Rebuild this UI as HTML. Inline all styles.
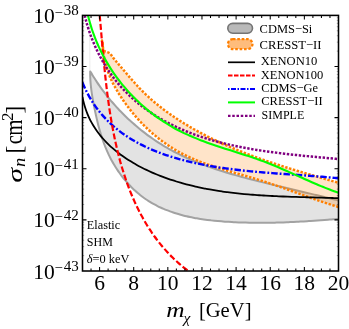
<!DOCTYPE html>
<html><head><meta charset="utf-8"><style>
html,body{margin:0;padding:0;background:#fff;}
svg{display:block;will-change:transform;}
text{fill:#000;}
</style></head><body>
<svg width="349" height="329" viewBox="0 0 349 329">
<rect width="349" height="329" fill="#fff"/>
<clipPath id="c"><rect x="82.5" y="15.4" width="256.0" height="255.6"/></clipPath>
<g clip-path="url(#c)" fill="none" stroke-linejoin="round">
<path d="M90.20,71.30 C90.57,71.91 91.65,73.74 92.39,74.95 C93.14,76.16 93.89,77.36 94.66,78.56 C95.42,79.75 96.20,80.93 96.98,82.11 C97.77,83.28 98.57,84.45 99.38,85.60 C100.19,86.76 101.00,87.91 101.83,89.04 C102.66,90.18 103.50,91.31 104.36,92.43 C105.21,93.55 106.07,94.66 106.94,95.76 C107.81,96.86 108.69,97.95 109.58,99.04 C110.47,100.12 111.37,101.19 112.29,102.25 C113.20,103.32 114.12,104.37 115.05,105.41 C115.98,106.45 116.92,107.49 117.87,108.51 C118.82,109.53 119.78,110.55 120.75,111.55 C121.72,112.55 122.69,113.55 123.68,114.53 C124.67,115.51 125.66,116.49 126.67,117.45 C127.68,118.41 128.69,119.37 129.71,120.31 C130.74,121.25 131.77,122.18 132.81,123.10 C133.85,124.02 134.90,124.93 135.96,125.83 C137.01,126.73 138.08,127.62 139.15,128.50 C140.23,129.38 141.31,130.25 142.40,131.10 C143.49,131.96 144.59,132.81 145.70,133.64 C146.80,134.48 147.92,135.30 149.04,136.11 C150.16,136.92 151.29,137.73 152.43,138.52 C153.57,139.31 154.72,140.08 155.87,140.85 C157.02,141.62 158.18,142.38 159.35,143.12 C160.52,143.87 161.69,144.60 162.87,145.32 C164.06,146.04 165.24,146.75 166.44,147.45 C167.64,148.15 168.84,148.83 170.05,149.51 C171.26,150.18 172.47,150.84 173.70,151.50 C174.92,152.15 176.15,152.78 177.38,153.41 C178.62,154.04 179.86,154.65 181.11,155.26 C182.36,155.86 183.61,156.46 184.87,157.04 C186.13,157.62 187.40,158.20 188.67,158.76 C189.94,159.32 191.21,159.88 192.49,160.42 C193.77,160.96 195.06,161.49 196.35,162.02 C197.64,162.54 198.94,163.06 200.24,163.56 C201.54,164.07 202.84,164.57 204.15,165.05 C205.46,165.54 206.78,166.02 208.09,166.50 C209.41,166.97 210.73,167.43 212.06,167.89 C213.38,168.35 214.71,168.80 216.04,169.24 C217.38,169.68 218.71,170.12 220.05,170.55 C221.39,170.97 222.73,171.40 224.08,171.81 C225.42,172.23 226.77,172.64 228.12,173.04 C229.47,173.45 230.82,173.84 232.18,174.24 C233.53,174.63 234.89,175.02 236.25,175.40 C237.61,175.78 238.97,176.16 240.33,176.53 C241.69,176.91 243.06,177.28 244.42,177.64 C245.79,178.01 247.16,178.37 248.53,178.73 C249.90,179.08 251.27,179.44 252.64,179.79 C254.01,180.14 255.38,180.49 256.75,180.83 C258.12,181.18 259.50,181.52 260.87,181.86 C262.24,182.20 263.61,182.54 264.99,182.87 C266.36,183.21 267.73,183.54 269.11,183.88 C270.48,184.21 271.85,184.54 273.23,184.87 C274.60,185.20 275.97,185.53 277.34,185.86 C278.71,186.19 280.09,186.52 281.46,186.84 C282.83,187.17 284.20,187.49 285.57,187.82 C286.94,188.14 288.30,188.47 289.67,188.79 C291.04,189.11 292.41,189.44 293.78,189.76 C295.14,190.08 296.51,190.41 297.87,190.73 C299.24,191.05 300.60,191.37 301.97,191.69 C303.33,192.02 304.69,192.34 306.05,192.66 C307.42,192.98 308.78,193.31 310.14,193.63 C311.49,193.95 312.85,194.27 314.21,194.60 C315.57,194.92 316.92,195.24 318.28,195.57 C319.63,195.89 320.99,196.22 322.34,196.54 C323.69,196.87 325.04,197.20 326.39,197.52 C327.74,197.85 329.09,198.18 330.44,198.51 C331.78,198.84 333.13,199.17 334.47,199.50 C335.82,199.83 337.83,200.33 338.50,200.50 L338.50,218.90 L338.50,218.90 C337.91,218.95 336.14,219.09 334.96,219.19 C333.79,219.28 332.61,219.38 331.44,219.47 C330.27,219.56 329.10,219.65 327.93,219.74 C326.77,219.83 325.61,219.92 324.44,220.01 C323.28,220.10 322.12,220.18 320.97,220.27 C319.81,220.35 318.65,220.44 317.50,220.52 C316.35,220.60 315.20,220.68 314.05,220.76 C312.90,220.84 311.75,220.91 310.61,220.99 C309.46,221.06 308.32,221.14 307.17,221.21 C306.03,221.28 304.89,221.35 303.75,221.41 C302.61,221.48 301.47,221.55 300.33,221.61 C299.19,221.67 298.06,221.73 296.92,221.79 C295.78,221.85 294.65,221.91 293.52,221.96 C292.38,222.02 291.25,222.07 290.11,222.12 C288.98,222.17 287.85,222.21 286.72,222.26 C285.58,222.30 284.45,222.35 283.32,222.39 C282.19,222.43 281.06,222.46 279.92,222.50 C278.79,222.53 277.66,222.56 276.53,222.59 C275.40,222.62 274.26,222.65 273.13,222.67 C272.00,222.69 270.87,222.71 269.73,222.73 C268.60,222.75 267.46,222.76 266.33,222.77 C265.20,222.78 264.06,222.79 262.92,222.79 C261.79,222.80 260.65,222.80 259.51,222.80 C258.37,222.80 257.23,222.79 256.09,222.78 C254.95,222.77 253.81,222.76 252.67,222.75 C251.52,222.73 250.38,222.71 249.23,222.69 C248.09,222.66 246.94,222.64 245.79,222.61 C244.64,222.58 243.49,222.54 242.33,222.51 C241.18,222.47 240.02,222.43 238.87,222.38 C237.71,222.34 236.55,222.29 235.39,222.23 C234.22,222.18 233.06,222.12 231.89,222.06 C230.73,222.00 229.56,221.93 228.39,221.86 C227.22,221.79 226.05,221.71 224.88,221.63 C223.71,221.55 222.53,221.46 221.36,221.37 C220.19,221.27 219.02,221.17 217.84,221.07 C216.67,220.96 215.50,220.85 214.32,220.73 C213.15,220.61 211.98,220.48 210.81,220.35 C209.64,220.21 208.47,220.07 207.30,219.92 C206.13,219.77 204.97,219.61 203.80,219.45 C202.64,219.28 201.48,219.10 200.32,218.92 C199.16,218.73 198.00,218.54 196.85,218.34 C195.69,218.14 194.54,217.92 193.39,217.70 C192.25,217.48 191.10,217.25 189.96,217.00 C188.82,216.76 187.69,216.51 186.56,216.24 C185.43,215.98 184.30,215.70 183.18,215.41 C182.06,215.13 180.94,214.83 179.83,214.52 C178.72,214.21 177.61,213.88 176.51,213.55 C175.42,213.21 174.32,212.86 173.24,212.50 C172.15,212.14 171.07,211.77 169.99,211.38 C168.92,210.99 167.86,210.59 166.80,210.17 C165.74,209.76 164.69,209.33 163.64,208.88 C162.60,208.44 161.56,207.98 160.54,207.51 C159.51,207.03 158.49,206.55 157.48,206.04 C156.47,205.54 155.47,205.02 154.48,204.48 C153.49,203.94 152.51,203.39 151.54,202.82 C150.57,202.25 149.60,201.67 148.65,201.07 C147.70,200.46 146.76,199.85 145.83,199.21 C144.90,198.57 143.98,197.92 143.07,197.25 C142.17,196.58 141.27,195.89 140.38,195.18 C139.50,194.48 138.62,193.76 137.76,193.03 C136.90,192.29 136.05,191.54 135.21,190.78 C134.37,190.01 133.54,189.23 132.72,188.44 C131.90,187.64 131.10,186.84 130.31,186.01 C129.51,185.19 128.73,184.36 127.97,183.51 C127.20,182.66 126.44,181.80 125.70,180.93 C124.95,180.05 124.22,179.17 123.50,178.27 C122.79,177.37 122.08,176.46 121.39,175.55 C120.69,174.63 120.01,173.69 119.35,172.75 C118.68,171.81 118.02,170.86 117.38,169.90 C116.74,168.94 116.12,167.97 115.50,166.98 C114.89,166.00 114.29,165.01 113.70,164.02 C113.11,163.02 112.54,162.01 111.98,161.00 C111.42,159.98 110.87,158.96 110.34,157.93 C109.81,156.90 109.29,155.86 108.79,154.82 C108.29,153.77 107.80,152.72 107.32,151.66 C106.85,150.61 106.39,149.54 105.94,148.48 C105.50,147.41 105.06,146.33 104.65,145.25 C104.23,144.18 103.82,143.09 103.43,142.00 C103.04,140.91 102.66,139.82 102.29,138.72 C101.92,137.63 101.56,136.52 101.22,135.42 C100.87,134.31 100.54,133.21 100.21,132.09 C99.88,130.98 99.57,129.87 99.26,128.75 C98.95,127.63 98.65,126.51 98.36,125.39 C98.07,124.27 97.79,123.14 97.52,122.02 C97.24,120.89 96.98,119.76 96.71,118.63 C96.45,117.51 96.20,116.38 95.95,115.25 C95.70,114.11 95.45,112.98 95.21,111.85 C94.98,110.72 94.74,109.59 94.51,108.46 C94.28,107.33 94.05,106.19 93.83,105.06 C93.61,103.93 93.40,102.80 93.19,101.67 C92.98,100.54 92.78,99.41 92.59,98.28 C92.40,97.15 92.21,96.02 92.04,94.89 C91.86,93.76 91.70,92.63 91.55,91.51 C91.39,90.38 91.25,89.25 91.12,88.12 C90.99,87.00 90.86,85.87 90.76,84.75 C90.65,83.62 90.56,82.50 90.48,81.38 C90.40,80.25 90.34,79.13 90.29,78.01 C90.24,76.89 90.21,75.77 90.19,74.65 C90.18,73.53 90.20,71.86 90.20,71.30 Z" fill="#c8c8c8" fill-opacity="0.5" stroke="none"/>
<path d="M338.50,218.90 C337.91,218.95 336.14,219.09 334.96,219.19 C333.79,219.28 332.61,219.38 331.44,219.47 C330.27,219.56 329.10,219.65 327.93,219.74 C326.77,219.83 325.61,219.92 324.44,220.01 C323.28,220.10 322.12,220.18 320.97,220.27 C319.81,220.35 318.65,220.44 317.50,220.52 C316.35,220.60 315.20,220.68 314.05,220.76 C312.90,220.84 311.75,220.91 310.61,220.99 C309.46,221.06 308.32,221.14 307.17,221.21 C306.03,221.28 304.89,221.35 303.75,221.41 C302.61,221.48 301.47,221.55 300.33,221.61 C299.19,221.67 298.06,221.73 296.92,221.79 C295.78,221.85 294.65,221.91 293.52,221.96 C292.38,222.02 291.25,222.07 290.11,222.12 C288.98,222.17 287.85,222.21 286.72,222.26 C285.58,222.30 284.45,222.35 283.32,222.39 C282.19,222.43 281.06,222.46 279.92,222.50 C278.79,222.53 277.66,222.56 276.53,222.59 C275.40,222.62 274.26,222.65 273.13,222.67 C272.00,222.69 270.87,222.71 269.73,222.73 C268.60,222.75 267.46,222.76 266.33,222.77 C265.20,222.78 264.06,222.79 262.92,222.79 C261.79,222.80 260.65,222.80 259.51,222.80 C258.37,222.80 257.23,222.79 256.09,222.78 C254.95,222.77 253.81,222.76 252.67,222.75 C251.52,222.73 250.38,222.71 249.23,222.69 C248.09,222.66 246.94,222.64 245.79,222.61 C244.64,222.58 243.49,222.54 242.33,222.51 C241.18,222.47 240.02,222.43 238.87,222.38 C237.71,222.34 236.55,222.29 235.39,222.23 C234.22,222.18 233.06,222.12 231.89,222.06 C230.73,222.00 229.56,221.93 228.39,221.86 C227.22,221.79 226.05,221.71 224.88,221.63 C223.71,221.55 222.53,221.46 221.36,221.37 C220.19,221.27 219.02,221.17 217.84,221.07 C216.67,220.96 215.50,220.85 214.32,220.73 C213.15,220.61 211.98,220.48 210.81,220.35 C209.64,220.21 208.47,220.07 207.30,219.92 C206.13,219.77 204.97,219.61 203.80,219.45 C202.64,219.28 201.48,219.10 200.32,218.92 C199.16,218.73 198.00,218.54 196.85,218.34 C195.69,218.14 194.54,217.92 193.39,217.70 C192.25,217.48 191.10,217.25 189.96,217.00 C188.82,216.76 187.69,216.51 186.56,216.24 C185.43,215.98 184.30,215.70 183.18,215.41 C182.06,215.13 180.94,214.83 179.83,214.52 C178.72,214.21 177.61,213.88 176.51,213.55 C175.42,213.21 174.32,212.86 173.24,212.50 C172.15,212.14 171.07,211.77 169.99,211.38 C168.92,210.99 167.86,210.59 166.80,210.17 C165.74,209.76 164.69,209.33 163.64,208.88 C162.60,208.44 161.56,207.98 160.54,207.51 C159.51,207.03 158.49,206.55 157.48,206.04 C156.47,205.54 155.47,205.02 154.48,204.48 C153.49,203.94 152.51,203.39 151.54,202.82 C150.57,202.25 149.60,201.67 148.65,201.07 C147.70,200.46 146.76,199.85 145.83,199.21 C144.90,198.57 143.98,197.92 143.07,197.25 C142.17,196.58 141.27,195.89 140.38,195.18 C139.50,194.48 138.62,193.76 137.76,193.03 C136.90,192.29 136.05,191.54 135.21,190.78 C134.37,190.01 133.54,189.23 132.72,188.44 C131.90,187.64 131.10,186.84 130.31,186.01 C129.51,185.19 128.73,184.36 127.97,183.51 C127.20,182.66 126.44,181.80 125.70,180.93 C124.95,180.05 124.22,179.17 123.50,178.27 C122.79,177.37 122.08,176.46 121.39,175.55 C120.69,174.63 120.01,173.69 119.35,172.75 C118.68,171.81 118.02,170.86 117.38,169.90 C116.74,168.94 116.12,167.97 115.50,166.98 C114.89,166.00 114.29,165.01 113.70,164.02 C113.11,163.02 112.54,162.01 111.98,161.00 C111.42,159.98 110.87,158.96 110.34,157.93 C109.81,156.90 109.29,155.86 108.79,154.82 C108.29,153.77 107.80,152.72 107.32,151.66 C106.85,150.61 106.39,149.54 105.94,148.48 C105.50,147.41 105.06,146.33 104.65,145.25 C104.23,144.18 103.82,143.09 103.43,142.00 C103.04,140.91 102.66,139.82 102.29,138.72 C101.92,137.63 101.56,136.52 101.22,135.42 C100.87,134.31 100.54,133.21 100.21,132.09 C99.88,130.98 99.57,129.87 99.26,128.75 C98.95,127.63 98.65,126.51 98.36,125.39 C98.07,124.27 97.79,123.14 97.52,122.02 C97.24,120.89 96.98,119.76 96.71,118.63 C96.45,117.51 96.20,116.38 95.95,115.25 C95.70,114.11 95.45,112.98 95.21,111.85 C94.98,110.72 94.74,109.59 94.51,108.46 C94.28,107.33 94.05,106.19 93.83,105.06 C93.61,103.93 93.40,102.80 93.19,101.67 C92.98,100.54 92.78,99.41 92.59,98.28 C92.40,97.15 92.21,96.02 92.04,94.89 C91.86,93.76 91.70,92.63 91.55,91.51 C91.39,90.38 91.25,89.25 91.12,88.12 C90.99,87.00 90.86,85.87 90.76,84.75 C90.65,83.62 90.56,82.50 90.48,81.38 C90.40,80.25 90.34,79.13 90.29,78.01 C90.24,76.89 90.21,75.77 90.19,74.65 C90.18,73.53 90.20,71.86 90.20,71.30 L90.20,71.30 C90.57,71.91 91.65,73.74 92.39,74.95 C93.14,76.16 93.89,77.36 94.66,78.56 C95.42,79.75 96.20,80.93 96.98,82.11 C97.77,83.28 98.57,84.45 99.38,85.60 C100.19,86.76 101.00,87.91 101.83,89.04 C102.66,90.18 103.50,91.31 104.36,92.43 C105.21,93.55 106.07,94.66 106.94,95.76 C107.81,96.86 108.69,97.95 109.58,99.04 C110.47,100.12 111.37,101.19 112.29,102.25 C113.20,103.32 114.12,104.37 115.05,105.41 C115.98,106.45 116.92,107.49 117.87,108.51 C118.82,109.53 119.78,110.55 120.75,111.55 C121.72,112.55 122.69,113.55 123.68,114.53 C124.67,115.51 125.66,116.49 126.67,117.45 C127.68,118.41 128.69,119.37 129.71,120.31 C130.74,121.25 131.77,122.18 132.81,123.10 C133.85,124.02 134.90,124.93 135.96,125.83 C137.01,126.73 138.08,127.62 139.15,128.50 C140.23,129.38 141.31,130.25 142.40,131.10 C143.49,131.96 144.59,132.81 145.70,133.64 C146.80,134.48 147.92,135.30 149.04,136.11 C150.16,136.92 151.29,137.73 152.43,138.52 C153.57,139.31 154.72,140.08 155.87,140.85 C157.02,141.62 158.18,142.38 159.35,143.12 C160.52,143.87 161.69,144.60 162.87,145.32 C164.06,146.04 165.24,146.75 166.44,147.45 C167.64,148.15 168.84,148.83 170.05,149.51 C171.26,150.18 172.47,150.84 173.70,151.50 C174.92,152.15 176.15,152.78 177.38,153.41 C178.62,154.04 179.86,154.65 181.11,155.26 C182.36,155.86 183.61,156.46 184.87,157.04 C186.13,157.62 187.40,158.20 188.67,158.76 C189.94,159.32 191.21,159.88 192.49,160.42 C193.77,160.96 195.06,161.49 196.35,162.02 C197.64,162.54 198.94,163.06 200.24,163.56 C201.54,164.07 202.84,164.57 204.15,165.05 C205.46,165.54 206.78,166.02 208.09,166.50 C209.41,166.97 210.73,167.43 212.06,167.89 C213.38,168.35 214.71,168.80 216.04,169.24 C217.38,169.68 218.71,170.12 220.05,170.55 C221.39,170.97 222.73,171.40 224.08,171.81 C225.42,172.23 226.77,172.64 228.12,173.04 C229.47,173.45 230.82,173.84 232.18,174.24 C233.53,174.63 234.89,175.02 236.25,175.40 C237.61,175.78 238.97,176.16 240.33,176.53 C241.69,176.91 243.06,177.28 244.42,177.64 C245.79,178.01 247.16,178.37 248.53,178.73 C249.90,179.08 251.27,179.44 252.64,179.79 C254.01,180.14 255.38,180.49 256.75,180.83 C258.12,181.18 259.50,181.52 260.87,181.86 C262.24,182.20 263.61,182.54 264.99,182.87 C266.36,183.21 267.73,183.54 269.11,183.88 C270.48,184.21 271.85,184.54 273.23,184.87 C274.60,185.20 275.97,185.53 277.34,185.86 C278.71,186.19 280.09,186.52 281.46,186.84 C282.83,187.17 284.20,187.49 285.57,187.82 C286.94,188.14 288.30,188.47 289.67,188.79 C291.04,189.11 292.41,189.44 293.78,189.76 C295.14,190.08 296.51,190.41 297.87,190.73 C299.24,191.05 300.60,191.37 301.97,191.69 C303.33,192.02 304.69,192.34 306.05,192.66 C307.42,192.98 308.78,193.31 310.14,193.63 C311.49,193.95 312.85,194.27 314.21,194.60 C315.57,194.92 316.92,195.24 318.28,195.57 C319.63,195.89 320.99,196.22 322.34,196.54 C323.69,196.87 325.04,197.20 326.39,197.52 C327.74,197.85 329.09,198.18 330.44,198.51 C331.78,198.84 333.13,199.17 334.47,199.50 C335.82,199.83 337.83,200.33 338.50,200.50" stroke="#a2a2a2" stroke-width="2"/>
<path d="M89.6,15 L89.9,71" stroke="#e9e9e9" stroke-width="0.9"/>
<path d="M102.00,40.50 C102.10,40.87 102.47,41.93 102.60,42.71 C102.72,43.50 102.70,44.37 102.76,45.20 C102.82,46.03 102.81,46.90 102.98,47.70 C103.15,48.49 103.35,49.30 103.76,49.95 C104.17,50.61 104.78,51.24 105.45,51.64 C106.11,52.04 107.03,52.05 107.76,52.34 C108.49,52.63 109.22,52.88 109.82,53.37 C110.43,53.85 110.89,54.60 111.39,55.25 C111.89,55.90 112.34,56.61 112.83,57.26 C113.31,57.90 113.80,58.51 114.30,59.13 C114.79,59.75 115.30,60.36 115.81,60.97 C116.31,61.58 116.83,62.20 117.35,62.81 C117.86,63.42 118.38,64.03 118.91,64.64 C119.43,65.25 119.95,65.86 120.47,66.47 C121.00,67.08 121.52,67.69 122.04,68.30 C122.57,68.91 123.09,69.52 123.61,70.13 C124.13,70.74 124.64,71.35 125.16,71.95 C125.68,72.56 126.20,73.17 126.72,73.78 C127.24,74.38 127.76,74.99 128.28,75.59 C128.80,76.20 129.31,76.80 129.84,77.40 C130.36,78.01 130.88,78.61 131.40,79.21 C131.92,79.81 132.45,80.40 132.97,81.00 C133.50,81.59 134.03,82.19 134.56,82.78 C135.09,83.37 135.62,83.96 136.15,84.55 C136.69,85.14 137.22,85.72 137.76,86.30 C138.30,86.88 138.84,87.46 139.39,88.04 C139.94,88.62 140.49,89.19 141.04,89.76 C141.59,90.33 142.15,90.90 142.71,91.46 C143.27,92.02 143.84,92.58 144.41,93.14 C144.98,93.70 145.55,94.25 146.13,94.80 C146.71,95.35 147.29,95.89 147.88,96.43 C148.47,96.98 149.06,97.51 149.66,98.05 C150.25,98.58 150.85,99.12 151.45,99.64 C152.05,100.17 152.66,100.70 153.27,101.22 C153.88,101.74 154.50,102.25 155.11,102.77 C155.73,103.28 156.35,103.79 156.97,104.30 C157.60,104.81 158.22,105.31 158.85,105.81 C159.48,106.31 160.12,106.81 160.75,107.30 C161.39,107.80 162.03,108.29 162.67,108.77 C163.31,109.26 163.95,109.75 164.60,110.23 C165.24,110.71 165.89,111.18 166.54,111.66 C167.20,112.13 167.85,112.60 168.50,113.07 C169.16,113.54 169.82,114.00 170.48,114.46 C171.14,114.92 171.80,115.38 172.46,115.84 C173.13,116.29 173.79,116.74 174.46,117.19 C175.12,117.64 175.79,118.09 176.46,118.53 C177.13,118.97 177.80,119.41 178.48,119.85 C179.15,120.29 179.82,120.72 180.50,121.15 C181.18,121.58 181.85,122.01 182.53,122.43 C183.21,122.86 183.89,123.28 184.57,123.70 C185.26,124.12 185.94,124.53 186.62,124.94 C187.31,125.36 188.00,125.77 188.68,126.17 C189.37,126.58 190.06,126.99 190.75,127.39 C191.44,127.79 192.13,128.19 192.83,128.59 C193.52,128.98 194.21,129.38 194.91,129.77 C195.61,130.16 196.30,130.55 197.00,130.93 C197.70,131.32 198.40,131.70 199.10,132.08 C199.80,132.46 200.50,132.84 201.21,133.21 C201.91,133.59 202.62,133.96 203.32,134.33 C204.03,134.70 204.74,135.07 205.44,135.43 C206.15,135.80 206.86,136.16 207.57,136.52 C208.28,136.88 209.00,137.24 209.71,137.59 C210.42,137.95 211.14,138.30 211.85,138.65 C212.57,139.00 213.28,139.35 214.00,139.70 C214.72,140.04 215.44,140.39 216.16,140.73 C216.88,141.07 217.60,141.41 218.32,141.75 C219.04,142.08 219.77,142.42 220.49,142.75 C221.22,143.08 221.94,143.41 222.67,143.74 C223.39,144.07 224.12,144.40 224.85,144.72 C225.58,145.04 226.31,145.37 227.04,145.69 C227.77,146.01 228.50,146.32 229.23,146.64 C229.96,146.96 230.70,147.27 231.43,147.58 C232.16,147.89 232.90,148.20 233.63,148.51 C234.37,148.82 235.11,149.12 235.84,149.43 C236.58,149.73 237.32,150.03 238.06,150.33 C238.80,150.63 239.54,150.93 240.28,151.23 C241.02,151.53 241.76,151.82 242.51,152.11 C243.25,152.41 243.99,152.70 244.74,152.99 C245.48,153.28 246.23,153.57 246.97,153.85 C247.72,154.14 248.46,154.42 249.21,154.70 C249.96,154.99 250.71,155.27 251.45,155.55 C252.20,155.83 252.95,156.11 253.70,156.38 C254.45,156.66 255.20,156.93 255.95,157.21 C256.70,157.48 257.46,157.75 258.21,158.02 C258.96,158.29 259.72,158.56 260.47,158.83 C261.22,159.10 261.98,159.36 262.73,159.63 C263.49,159.89 264.24,160.16 265.00,160.42 C265.75,160.68 266.51,160.94 267.27,161.20 C268.03,161.46 268.78,161.72 269.54,161.97 C270.30,162.23 271.06,162.49 271.82,162.74 C272.58,162.99 273.34,163.25 274.10,163.50 C274.86,163.75 275.62,164.00 276.38,164.25 C277.14,164.50 277.90,164.75 278.66,165.00 C279.43,165.24 280.19,165.49 280.95,165.74 C281.71,165.98 282.48,166.22 283.24,166.47 C284.00,166.71 284.77,166.95 285.53,167.19 C286.30,167.44 287.06,167.68 287.82,167.91 C288.59,168.15 289.35,168.39 290.12,168.63 C290.89,168.87 291.65,169.10 292.42,169.34 C293.18,169.57 293.95,169.81 294.72,170.04 C295.48,170.28 296.25,170.51 297.02,170.74 C297.78,170.98 298.55,171.21 299.32,171.44 C300.08,171.67 300.85,171.90 301.62,172.13 C302.39,172.36 303.16,172.59 303.92,172.82 C304.69,173.04 305.46,173.27 306.23,173.50 C307.00,173.73 307.76,173.95 308.53,174.18 C309.30,174.40 310.07,174.63 310.84,174.85 C311.61,175.08 312.38,175.30 313.15,175.53 C313.91,175.75 314.68,175.97 315.45,176.20 C316.22,176.42 316.99,176.64 317.76,176.86 C318.53,177.09 319.30,177.31 320.06,177.53 C320.83,177.75 321.60,177.97 322.37,178.19 C323.14,178.41 323.91,178.63 324.68,178.85 C325.45,179.07 326.21,179.29 326.98,179.51 C327.75,179.73 328.52,179.95 329.29,180.17 C330.06,180.39 330.82,180.61 331.59,180.83 C332.36,181.05 333.13,181.27 333.90,181.49 C334.66,181.71 335.43,181.92 336.20,182.14 C336.97,182.36 338.12,182.69 338.50,182.80 L338.50,207.00 L338.50,207.00 C338.08,206.87 336.83,206.50 335.99,206.24 C335.16,205.98 334.32,205.73 333.49,205.47 C332.66,205.21 331.83,204.94 331.00,204.68 C330.17,204.42 329.34,204.15 328.51,203.88 C327.68,203.61 326.85,203.34 326.03,203.07 C325.20,202.80 324.38,202.52 323.55,202.25 C322.73,201.97 321.90,201.70 321.08,201.42 C320.26,201.14 319.44,200.86 318.62,200.58 C317.80,200.30 316.98,200.02 316.16,199.73 C315.34,199.45 314.52,199.16 313.70,198.88 C312.88,198.59 312.06,198.31 311.25,198.02 C310.43,197.73 309.61,197.44 308.80,197.15 C307.98,196.86 307.17,196.57 306.35,196.28 C305.53,195.99 304.72,195.70 303.91,195.41 C303.09,195.12 302.28,194.83 301.46,194.54 C300.65,194.24 299.83,193.95 299.02,193.66 C298.21,193.37 297.39,193.07 296.58,192.78 C295.77,192.49 294.95,192.20 294.14,191.91 C293.32,191.61 292.51,191.32 291.70,191.03 C290.88,190.74 290.07,190.45 289.26,190.15 C288.44,189.86 287.63,189.57 286.81,189.28 C286.00,188.99 285.18,188.70 284.37,188.42 C283.55,188.13 282.74,187.84 281.92,187.55 C281.11,187.27 280.29,186.98 279.47,186.70 C278.66,186.41 277.84,186.13 277.02,185.85 C276.21,185.56 275.39,185.28 274.57,185.00 C273.75,184.72 272.93,184.44 272.11,184.17 C271.29,183.89 270.47,183.61 269.65,183.34 C268.83,183.07 268.00,182.79 267.18,182.52 C266.36,182.25 265.53,181.98 264.71,181.72 C263.88,181.45 263.06,181.19 262.23,180.92 C261.40,180.66 260.57,180.40 259.75,180.14 C258.92,179.89 258.09,179.63 257.25,179.38 C256.42,179.12 255.59,178.87 254.76,178.62 C253.92,178.37 253.09,178.12 252.26,177.88 C251.42,177.63 250.59,177.39 249.75,177.14 C248.91,176.90 248.08,176.66 247.24,176.42 C246.40,176.17 245.56,175.93 244.72,175.69 C243.89,175.45 243.05,175.22 242.21,174.98 C241.37,174.74 240.53,174.50 239.69,174.26 C238.85,174.02 238.01,173.78 237.17,173.55 C236.34,173.31 235.50,173.07 234.66,172.83 C233.82,172.59 232.98,172.35 232.14,172.11 C231.30,171.87 230.46,171.63 229.63,171.38 C228.79,171.14 227.95,170.90 227.12,170.65 C226.28,170.41 225.44,170.16 224.61,169.91 C223.77,169.66 222.94,169.41 222.11,169.16 C221.27,168.91 220.44,168.66 219.61,168.40 C218.78,168.14 217.95,167.88 217.12,167.62 C216.29,167.36 215.46,167.10 214.63,166.83 C213.81,166.56 212.98,166.29 212.16,166.02 C211.33,165.74 210.51,165.47 209.69,165.19 C208.87,164.91 208.05,164.62 207.23,164.34 C206.41,164.05 205.60,163.76 204.78,163.46 C203.97,163.17 203.15,162.87 202.34,162.56 C201.53,162.26 200.72,161.95 199.92,161.64 C199.11,161.33 198.31,161.01 197.51,160.68 C196.70,160.36 195.90,160.03 195.11,159.70 C194.31,159.37 193.52,159.03 192.72,158.68 C191.93,158.34 191.14,157.99 190.35,157.64 C189.57,157.28 188.78,156.92 188.00,156.55 C187.22,156.18 186.44,155.81 185.66,155.43 C184.89,155.05 184.12,154.66 183.35,154.27 C182.58,153.87 181.81,153.47 181.05,153.06 C180.28,152.66 179.52,152.24 178.77,151.82 C178.01,151.40 177.26,150.97 176.51,150.54 C175.76,150.10 175.01,149.66 174.27,149.22 C173.52,148.77 172.78,148.31 172.05,147.86 C171.31,147.40 170.58,146.93 169.85,146.46 C169.12,145.98 168.40,145.51 167.68,145.02 C166.96,144.54 166.24,144.04 165.53,143.55 C164.82,143.05 164.11,142.55 163.41,142.04 C162.70,141.53 162.00,141.01 161.31,140.49 C160.61,139.97 159.92,139.45 159.24,138.92 C158.55,138.38 157.87,137.85 157.19,137.30 C156.51,136.76 155.84,136.21 155.17,135.65 C154.51,135.10 153.84,134.54 153.18,133.97 C152.53,133.41 151.87,132.84 151.22,132.26 C150.58,131.69 149.93,131.11 149.29,130.52 C148.65,129.93 148.02,129.34 147.39,128.74 C146.76,128.15 146.14,127.55 145.52,126.94 C144.90,126.33 144.28,125.72 143.67,125.10 C143.06,124.49 142.46,123.87 141.86,123.24 C141.26,122.61 140.66,121.98 140.07,121.35 C139.48,120.71 138.89,120.07 138.31,119.43 C137.73,118.78 137.15,118.13 136.58,117.48 C136.01,116.83 135.44,116.17 134.87,115.51 C134.31,114.84 133.75,114.18 133.20,113.51 C132.64,112.84 132.09,112.16 131.55,111.48 C131.00,110.80 130.46,110.12 129.93,109.43 C129.39,108.75 128.86,108.06 128.33,107.36 C127.81,106.67 127.28,105.97 126.77,105.26 C126.25,104.56 125.73,103.86 125.23,103.15 C124.72,102.44 124.21,101.72 123.71,101.00 C123.21,100.29 122.72,99.57 122.23,98.84 C121.74,98.12 121.25,97.39 120.77,96.66 C120.29,95.93 119.82,95.19 119.35,94.45 C118.88,93.71 118.42,92.97 117.97,92.22 C117.51,91.48 117.06,90.73 116.62,89.97 C116.18,89.22 115.75,88.46 115.32,87.70 C114.90,86.94 114.48,86.17 114.07,85.40 C113.66,84.63 113.26,83.86 112.87,83.08 C112.48,82.31 112.10,81.53 111.73,80.74 C111.35,79.96 110.99,79.17 110.64,78.38 C110.28,77.58 109.94,76.79 109.61,75.99 C109.28,75.19 108.96,74.38 108.65,73.57 C108.34,72.76 108.04,71.95 107.75,71.13 C107.46,70.32 107.19,69.50 106.92,68.67 C106.66,67.85 106.41,67.02 106.17,66.18 C105.93,65.35 105.71,64.51 105.49,63.67 C105.28,62.83 105.08,61.99 104.89,61.14 C104.70,60.30 104.52,59.44 104.34,58.59 C104.17,57.74 104.01,56.89 103.86,56.03 C103.71,55.17 103.57,54.31 103.44,53.45 C103.30,52.59 103.18,51.73 103.06,50.87 C102.95,50.01 102.84,49.14 102.74,48.28 C102.64,47.41 102.54,46.55 102.46,45.69 C102.37,44.82 102.29,43.96 102.21,43.09 C102.14,42.23 102.04,40.93 102.01,40.50 Z" fill="#ff7f00" fill-opacity="0.21" stroke="none"/>
<path d="M338.50,207.00 C338.08,206.87 336.83,206.50 335.99,206.24 C335.16,205.98 334.32,205.73 333.49,205.47 C332.66,205.21 331.83,204.94 331.00,204.68 C330.17,204.42 329.34,204.15 328.51,203.88 C327.68,203.61 326.85,203.34 326.03,203.07 C325.20,202.80 324.38,202.52 323.55,202.25 C322.73,201.97 321.90,201.70 321.08,201.42 C320.26,201.14 319.44,200.86 318.62,200.58 C317.80,200.30 316.98,200.02 316.16,199.73 C315.34,199.45 314.52,199.16 313.70,198.88 C312.88,198.59 312.06,198.31 311.25,198.02 C310.43,197.73 309.61,197.44 308.80,197.15 C307.98,196.86 307.17,196.57 306.35,196.28 C305.53,195.99 304.72,195.70 303.91,195.41 C303.09,195.12 302.28,194.83 301.46,194.54 C300.65,194.24 299.83,193.95 299.02,193.66 C298.21,193.37 297.39,193.07 296.58,192.78 C295.77,192.49 294.95,192.20 294.14,191.91 C293.32,191.61 292.51,191.32 291.70,191.03 C290.88,190.74 290.07,190.45 289.26,190.15 C288.44,189.86 287.63,189.57 286.81,189.28 C286.00,188.99 285.18,188.70 284.37,188.42 C283.55,188.13 282.74,187.84 281.92,187.55 C281.11,187.27 280.29,186.98 279.47,186.70 C278.66,186.41 277.84,186.13 277.02,185.85 C276.21,185.56 275.39,185.28 274.57,185.00 C273.75,184.72 272.93,184.44 272.11,184.17 C271.29,183.89 270.47,183.61 269.65,183.34 C268.83,183.07 268.00,182.79 267.18,182.52 C266.36,182.25 265.53,181.98 264.71,181.72 C263.88,181.45 263.06,181.19 262.23,180.92 C261.40,180.66 260.57,180.40 259.75,180.14 C258.92,179.89 258.09,179.63 257.25,179.38 C256.42,179.12 255.59,178.87 254.76,178.62 C253.92,178.37 253.09,178.12 252.26,177.88 C251.42,177.63 250.59,177.39 249.75,177.14 C248.91,176.90 248.08,176.66 247.24,176.42 C246.40,176.17 245.56,175.93 244.72,175.69 C243.89,175.45 243.05,175.22 242.21,174.98 C241.37,174.74 240.53,174.50 239.69,174.26 C238.85,174.02 238.01,173.78 237.17,173.55 C236.34,173.31 235.50,173.07 234.66,172.83 C233.82,172.59 232.98,172.35 232.14,172.11 C231.30,171.87 230.46,171.63 229.63,171.38 C228.79,171.14 227.95,170.90 227.12,170.65 C226.28,170.41 225.44,170.16 224.61,169.91 C223.77,169.66 222.94,169.41 222.11,169.16 C221.27,168.91 220.44,168.66 219.61,168.40 C218.78,168.14 217.95,167.88 217.12,167.62 C216.29,167.36 215.46,167.10 214.63,166.83 C213.81,166.56 212.98,166.29 212.16,166.02 C211.33,165.74 210.51,165.47 209.69,165.19 C208.87,164.91 208.05,164.62 207.23,164.34 C206.41,164.05 205.60,163.76 204.78,163.46 C203.97,163.17 203.15,162.87 202.34,162.56 C201.53,162.26 200.72,161.95 199.92,161.64 C199.11,161.33 198.31,161.01 197.51,160.68 C196.70,160.36 195.90,160.03 195.11,159.70 C194.31,159.37 193.52,159.03 192.72,158.68 C191.93,158.34 191.14,157.99 190.35,157.64 C189.57,157.28 188.78,156.92 188.00,156.55 C187.22,156.18 186.44,155.81 185.66,155.43 C184.89,155.05 184.12,154.66 183.35,154.27 C182.58,153.87 181.81,153.47 181.05,153.06 C180.28,152.66 179.52,152.24 178.77,151.82 C178.01,151.40 177.26,150.97 176.51,150.54 C175.76,150.10 175.01,149.66 174.27,149.22 C173.52,148.77 172.78,148.31 172.05,147.86 C171.31,147.40 170.58,146.93 169.85,146.46 C169.12,145.98 168.40,145.51 167.68,145.02 C166.96,144.54 166.24,144.04 165.53,143.55 C164.82,143.05 164.11,142.55 163.41,142.04 C162.70,141.53 162.00,141.01 161.31,140.49 C160.61,139.97 159.92,139.45 159.24,138.92 C158.55,138.38 157.87,137.85 157.19,137.30 C156.51,136.76 155.84,136.21 155.17,135.65 C154.51,135.10 153.84,134.54 153.18,133.97 C152.53,133.41 151.87,132.84 151.22,132.26 C150.58,131.69 149.93,131.11 149.29,130.52 C148.65,129.93 148.02,129.34 147.39,128.74 C146.76,128.15 146.14,127.55 145.52,126.94 C144.90,126.33 144.28,125.72 143.67,125.10 C143.06,124.49 142.46,123.87 141.86,123.24 C141.26,122.61 140.66,121.98 140.07,121.35 C139.48,120.71 138.89,120.07 138.31,119.43 C137.73,118.78 137.15,118.13 136.58,117.48 C136.01,116.83 135.44,116.17 134.87,115.51 C134.31,114.84 133.75,114.18 133.20,113.51 C132.64,112.84 132.09,112.16 131.55,111.48 C131.00,110.80 130.46,110.12 129.93,109.43 C129.39,108.75 128.86,108.06 128.33,107.36 C127.81,106.67 127.28,105.97 126.77,105.26 C126.25,104.56 125.73,103.86 125.23,103.15 C124.72,102.44 124.21,101.72 123.71,101.00 C123.21,100.29 122.72,99.57 122.23,98.84 C121.74,98.12 121.25,97.39 120.77,96.66 C120.29,95.93 119.82,95.19 119.35,94.45 C118.88,93.71 118.42,92.97 117.97,92.22 C117.51,91.48 117.06,90.73 116.62,89.97 C116.18,89.22 115.75,88.46 115.32,87.70 C114.90,86.94 114.48,86.17 114.07,85.40 C113.66,84.63 113.26,83.86 112.87,83.08 C112.48,82.31 112.10,81.53 111.73,80.74 C111.35,79.96 110.99,79.17 110.64,78.38 C110.28,77.58 109.94,76.79 109.61,75.99 C109.28,75.19 108.96,74.38 108.65,73.57 C108.34,72.76 108.04,71.95 107.75,71.13 C107.46,70.32 107.19,69.50 106.92,68.67 C106.66,67.85 106.41,67.02 106.17,66.18 C105.93,65.35 105.71,64.51 105.49,63.67 C105.28,62.83 105.08,61.99 104.89,61.14 C104.70,60.30 104.52,59.44 104.34,58.59 C104.17,57.74 104.01,56.89 103.86,56.03 C103.71,55.17 103.57,54.31 103.44,53.45 C103.30,52.59 103.18,51.73 103.06,50.87 C102.95,50.01 102.84,49.14 102.74,48.28 C102.64,47.41 102.54,46.55 102.46,45.69 C102.37,44.82 102.29,43.96 102.21,43.09 C102.14,42.23 102.04,40.93 102.01,40.50 L102.00,40.50 C102.10,40.87 102.47,41.93 102.60,42.71 C102.72,43.50 102.70,44.37 102.76,45.20 C102.82,46.03 102.81,46.90 102.98,47.70 C103.15,48.49 103.35,49.30 103.76,49.95 C104.17,50.61 104.78,51.24 105.45,51.64 C106.11,52.04 107.03,52.05 107.76,52.34 C108.49,52.63 109.22,52.88 109.82,53.37 C110.43,53.85 110.89,54.60 111.39,55.25 C111.89,55.90 112.34,56.61 112.83,57.26 C113.31,57.90 113.80,58.51 114.30,59.13 C114.79,59.75 115.30,60.36 115.81,60.97 C116.31,61.58 116.83,62.20 117.35,62.81 C117.86,63.42 118.38,64.03 118.91,64.64 C119.43,65.25 119.95,65.86 120.47,66.47 C121.00,67.08 121.52,67.69 122.04,68.30 C122.57,68.91 123.09,69.52 123.61,70.13 C124.13,70.74 124.64,71.35 125.16,71.95 C125.68,72.56 126.20,73.17 126.72,73.78 C127.24,74.38 127.76,74.99 128.28,75.59 C128.80,76.20 129.31,76.80 129.84,77.40 C130.36,78.01 130.88,78.61 131.40,79.21 C131.92,79.81 132.45,80.40 132.97,81.00 C133.50,81.59 134.03,82.19 134.56,82.78 C135.09,83.37 135.62,83.96 136.15,84.55 C136.69,85.14 137.22,85.72 137.76,86.30 C138.30,86.88 138.84,87.46 139.39,88.04 C139.94,88.62 140.49,89.19 141.04,89.76 C141.59,90.33 142.15,90.90 142.71,91.46 C143.27,92.02 143.84,92.58 144.41,93.14 C144.98,93.70 145.55,94.25 146.13,94.80 C146.71,95.35 147.29,95.89 147.88,96.43 C148.47,96.98 149.06,97.51 149.66,98.05 C150.25,98.58 150.85,99.12 151.45,99.64 C152.05,100.17 152.66,100.70 153.27,101.22 C153.88,101.74 154.50,102.25 155.11,102.77 C155.73,103.28 156.35,103.79 156.97,104.30 C157.60,104.81 158.22,105.31 158.85,105.81 C159.48,106.31 160.12,106.81 160.75,107.30 C161.39,107.80 162.03,108.29 162.67,108.77 C163.31,109.26 163.95,109.75 164.60,110.23 C165.24,110.71 165.89,111.18 166.54,111.66 C167.20,112.13 167.85,112.60 168.50,113.07 C169.16,113.54 169.82,114.00 170.48,114.46 C171.14,114.92 171.80,115.38 172.46,115.84 C173.13,116.29 173.79,116.74 174.46,117.19 C175.12,117.64 175.79,118.09 176.46,118.53 C177.13,118.97 177.80,119.41 178.48,119.85 C179.15,120.29 179.82,120.72 180.50,121.15 C181.18,121.58 181.85,122.01 182.53,122.43 C183.21,122.86 183.89,123.28 184.57,123.70 C185.26,124.12 185.94,124.53 186.62,124.94 C187.31,125.36 188.00,125.77 188.68,126.17 C189.37,126.58 190.06,126.99 190.75,127.39 C191.44,127.79 192.13,128.19 192.83,128.59 C193.52,128.98 194.21,129.38 194.91,129.77 C195.61,130.16 196.30,130.55 197.00,130.93 C197.70,131.32 198.40,131.70 199.10,132.08 C199.80,132.46 200.50,132.84 201.21,133.21 C201.91,133.59 202.62,133.96 203.32,134.33 C204.03,134.70 204.74,135.07 205.44,135.43 C206.15,135.80 206.86,136.16 207.57,136.52 C208.28,136.88 209.00,137.24 209.71,137.59 C210.42,137.95 211.14,138.30 211.85,138.65 C212.57,139.00 213.28,139.35 214.00,139.70 C214.72,140.04 215.44,140.39 216.16,140.73 C216.88,141.07 217.60,141.41 218.32,141.75 C219.04,142.08 219.77,142.42 220.49,142.75 C221.22,143.08 221.94,143.41 222.67,143.74 C223.39,144.07 224.12,144.40 224.85,144.72 C225.58,145.04 226.31,145.37 227.04,145.69 C227.77,146.01 228.50,146.32 229.23,146.64 C229.96,146.96 230.70,147.27 231.43,147.58 C232.16,147.89 232.90,148.20 233.63,148.51 C234.37,148.82 235.11,149.12 235.84,149.43 C236.58,149.73 237.32,150.03 238.06,150.33 C238.80,150.63 239.54,150.93 240.28,151.23 C241.02,151.53 241.76,151.82 242.51,152.11 C243.25,152.41 243.99,152.70 244.74,152.99 C245.48,153.28 246.23,153.57 246.97,153.85 C247.72,154.14 248.46,154.42 249.21,154.70 C249.96,154.99 250.71,155.27 251.45,155.55 C252.20,155.83 252.95,156.11 253.70,156.38 C254.45,156.66 255.20,156.93 255.95,157.21 C256.70,157.48 257.46,157.75 258.21,158.02 C258.96,158.29 259.72,158.56 260.47,158.83 C261.22,159.10 261.98,159.36 262.73,159.63 C263.49,159.89 264.24,160.16 265.00,160.42 C265.75,160.68 266.51,160.94 267.27,161.20 C268.03,161.46 268.78,161.72 269.54,161.97 C270.30,162.23 271.06,162.49 271.82,162.74 C272.58,162.99 273.34,163.25 274.10,163.50 C274.86,163.75 275.62,164.00 276.38,164.25 C277.14,164.50 277.90,164.75 278.66,165.00 C279.43,165.24 280.19,165.49 280.95,165.74 C281.71,165.98 282.48,166.22 283.24,166.47 C284.00,166.71 284.77,166.95 285.53,167.19 C286.30,167.44 287.06,167.68 287.82,167.91 C288.59,168.15 289.35,168.39 290.12,168.63 C290.89,168.87 291.65,169.10 292.42,169.34 C293.18,169.57 293.95,169.81 294.72,170.04 C295.48,170.28 296.25,170.51 297.02,170.74 C297.78,170.98 298.55,171.21 299.32,171.44 C300.08,171.67 300.85,171.90 301.62,172.13 C302.39,172.36 303.16,172.59 303.92,172.82 C304.69,173.04 305.46,173.27 306.23,173.50 C307.00,173.73 307.76,173.95 308.53,174.18 C309.30,174.40 310.07,174.63 310.84,174.85 C311.61,175.08 312.38,175.30 313.15,175.53 C313.91,175.75 314.68,175.97 315.45,176.20 C316.22,176.42 316.99,176.64 317.76,176.86 C318.53,177.09 319.30,177.31 320.06,177.53 C320.83,177.75 321.60,177.97 322.37,178.19 C323.14,178.41 323.91,178.63 324.68,178.85 C325.45,179.07 326.21,179.29 326.98,179.51 C327.75,179.73 328.52,179.95 329.29,180.17 C330.06,180.39 330.82,180.61 331.59,180.83 C332.36,181.05 333.13,181.27 333.90,181.49 C334.66,181.71 335.43,181.92 336.20,182.14 C336.97,182.36 338.12,182.69 338.50,182.80" stroke="#ff7f00" stroke-width="2.5" stroke-dasharray="2.4,1.6"/>
<path d="M82.50,97.00 C82.66,97.74 83.09,100.01 83.44,101.47 C83.79,102.94 84.18,104.39 84.60,105.81 C85.02,107.24 85.47,108.64 85.96,110.01 C86.45,111.39 86.97,112.75 87.52,114.08 C88.07,115.42 88.65,116.73 89.27,118.02 C89.88,119.31 90.52,120.58 91.20,121.83 C91.87,123.08 92.57,124.30 93.30,125.51 C94.03,126.71 94.79,127.90 95.57,129.06 C96.36,130.23 97.17,131.37 98.00,132.50 C98.84,133.62 99.70,134.73 100.59,135.81 C101.47,136.90 102.38,137.96 103.31,139.01 C104.24,140.05 105.20,141.08 106.17,142.09 C107.15,143.09 108.15,144.08 109.16,145.05 C110.18,146.02 111.22,146.97 112.27,147.90 C113.33,148.84 114.41,149.75 115.50,150.65 C116.59,151.55 117.70,152.42 118.83,153.29 C119.95,154.15 121.10,154.99 122.25,155.82 C123.41,156.65 124.58,157.46 125.77,158.25 C126.95,159.04 128.15,159.82 129.37,160.58 C130.58,161.34 131.80,162.08 133.04,162.81 C134.27,163.54 135.52,164.25 136.78,164.94 C138.03,165.64 139.30,166.32 140.57,166.99 C141.85,167.65 143.13,168.30 144.42,168.94 C145.71,169.57 147.01,170.19 148.31,170.80 C149.62,171.40 150.93,171.99 152.24,172.57 C153.55,173.15 154.87,173.71 156.20,174.26 C157.52,174.81 158.85,175.34 160.18,175.86 C161.52,176.38 162.85,176.89 164.19,177.39 C165.54,177.88 166.88,178.36 168.23,178.83 C169.58,179.30 170.94,179.76 172.30,180.20 C173.65,180.65 175.02,181.08 176.38,181.50 C177.75,181.92 179.12,182.33 180.49,182.73 C181.86,183.12 183.24,183.51 184.62,183.88 C186.00,184.25 187.39,184.62 188.77,184.97 C190.16,185.32 191.55,185.66 192.94,185.99 C194.34,186.32 195.73,186.64 197.13,186.95 C198.53,187.26 199.93,187.56 201.34,187.86 C202.74,188.15 204.15,188.43 205.56,188.70 C206.97,188.97 208.38,189.23 209.80,189.49 C211.21,189.74 212.63,189.98 214.05,190.22 C215.47,190.45 216.89,190.68 218.31,190.90 C219.73,191.12 221.16,191.33 222.59,191.53 C224.01,191.74 225.44,191.93 226.87,192.12 C228.30,192.31 229.73,192.49 231.17,192.66 C232.60,192.83 234.03,193.00 235.47,193.16 C236.91,193.32 238.34,193.47 239.78,193.62 C241.22,193.76 242.66,193.90 244.10,194.04 C245.54,194.17 246.98,194.30 248.42,194.42 C249.86,194.54 251.31,194.66 252.75,194.77 C254.19,194.88 255.64,194.99 257.08,195.09 C258.52,195.19 259.97,195.29 261.41,195.38 C262.86,195.47 264.30,195.56 265.75,195.65 C267.19,195.73 268.63,195.81 270.08,195.89 C271.52,195.96 272.97,196.03 274.41,196.10 C275.85,196.17 277.30,196.24 278.74,196.30 C280.18,196.36 281.62,196.42 283.07,196.48 C284.51,196.54 285.95,196.59 287.39,196.64 C288.83,196.69 290.27,196.74 291.70,196.79 C293.14,196.84 294.58,196.89 296.01,196.93 C297.45,196.98 298.88,197.02 300.31,197.06 C301.75,197.10 303.18,197.14 304.61,197.18 C306.04,197.22 307.46,197.26 308.89,197.30 C310.32,197.34 311.74,197.38 313.16,197.42 C314.58,197.46 316.00,197.50 317.42,197.54 C318.84,197.58 320.25,197.62 321.67,197.66 C323.08,197.70 324.49,197.74 325.90,197.78 C327.31,197.82 328.71,197.87 330.12,197.91 C331.52,197.96 332.92,198.00 334.32,198.05 C335.71,198.10 337.80,198.18 338.50,198.20" stroke="#000" stroke-width="1.8"/>
<path d="M82.50,82.50 C82.79,83.20 83.66,85.31 84.27,86.69 C84.88,88.06 85.51,89.41 86.16,90.74 C86.81,92.06 87.49,93.37 88.18,94.65 C88.87,95.93 89.58,97.19 90.31,98.43 C91.04,99.66 91.78,100.88 92.55,102.07 C93.32,103.27 94.10,104.44 94.90,105.59 C95.70,106.74 96.52,107.87 97.36,108.98 C98.20,110.09 99.05,111.18 99.92,112.25 C100.80,113.32 101.68,114.37 102.59,115.40 C103.49,116.43 104.41,117.44 105.35,118.43 C106.28,119.42 107.23,120.39 108.20,121.34 C109.17,122.29 110.15,123.23 111.15,124.14 C112.14,125.06 113.15,125.95 114.18,126.83 C115.20,127.71 116.24,128.57 117.29,129.41 C118.34,130.26 119.41,131.08 120.49,131.89 C121.57,132.70 122.66,133.49 123.76,134.27 C124.87,135.04 125.98,135.80 127.11,136.54 C128.24,137.28 129.38,138.01 130.53,138.72 C131.68,139.43 132.84,140.12 134.02,140.80 C135.19,141.48 136.38,142.14 137.57,142.79 C138.76,143.43 139.97,144.07 141.18,144.69 C142.40,145.30 143.62,145.91 144.85,146.50 C146.09,147.09 147.33,147.66 148.58,148.22 C149.83,148.79 151.09,149.34 152.36,149.87 C153.63,150.41 154.90,150.93 156.18,151.44 C157.47,151.95 158.76,152.44 160.06,152.93 C161.35,153.41 162.66,153.88 163.97,154.34 C165.28,154.80 166.60,155.25 167.92,155.68 C169.25,156.12 170.58,156.54 171.91,156.96 C173.25,157.37 174.59,157.77 175.93,158.17 C177.28,158.56 178.63,158.94 179.98,159.31 C181.34,159.68 182.69,160.04 184.06,160.39 C185.42,160.74 186.79,161.09 188.16,161.42 C189.52,161.75 190.90,162.07 192.27,162.39 C193.65,162.70 195.03,163.00 196.41,163.30 C197.79,163.60 199.17,163.88 200.55,164.16 C201.94,164.44 203.33,164.71 204.72,164.98 C206.11,165.24 207.50,165.50 208.89,165.74 C210.29,165.99 211.68,166.23 213.08,166.47 C214.47,166.70 215.87,166.93 217.27,167.15 C218.67,167.37 220.08,167.58 221.48,167.79 C222.88,168.00 224.29,168.20 225.69,168.39 C227.10,168.59 228.51,168.77 229.91,168.96 C231.32,169.14 232.73,169.32 234.14,169.49 C235.55,169.66 236.96,169.83 238.37,169.99 C239.78,170.15 241.19,170.31 242.61,170.46 C244.02,170.62 245.43,170.76 246.84,170.91 C248.26,171.05 249.67,171.19 251.08,171.33 C252.49,171.46 253.91,171.60 255.32,171.73 C256.73,171.85 258.15,171.98 259.56,172.10 C260.97,172.23 262.38,172.34 263.80,172.46 C265.21,172.58 266.62,172.69 268.03,172.80 C269.44,172.92 270.85,173.03 272.26,173.13 C273.67,173.24 275.08,173.35 276.48,173.45 C277.89,173.55 279.30,173.66 280.70,173.76 C282.11,173.86 283.51,173.96 284.91,174.06 C286.32,174.16 287.72,174.26 289.12,174.35 C290.52,174.45 291.92,174.55 293.31,174.65 C294.71,174.74 296.10,174.84 297.49,174.94 C298.89,175.04 300.28,175.13 301.67,175.23 C303.05,175.33 304.44,175.43 305.82,175.53 C307.21,175.63 308.59,175.73 309.97,175.83 C311.35,175.93 312.72,176.04 314.10,176.14 C315.47,176.25 316.84,176.35 318.21,176.46 C319.58,176.57 320.94,176.68 322.31,176.80 C323.67,176.91 325.03,177.03 326.39,177.15 C327.74,177.26 329.09,177.39 330.44,177.51 C331.79,177.64 333.14,177.76 334.48,177.90 C335.82,178.03 337.83,178.23 338.50,178.30" stroke="#00f" stroke-width="2.4" stroke-dasharray="6.5,2,1.8,2"/>
<path d="M99.70,15.40 C99.76,16.05 99.93,17.98 100.05,19.28 C100.17,20.58 100.28,21.88 100.40,23.18 C100.51,24.49 100.63,25.79 100.74,27.11 C100.86,28.42 100.97,29.73 101.09,31.05 C101.20,32.36 101.32,33.68 101.43,35.01 C101.55,36.33 101.66,37.65 101.78,38.98 C101.89,40.31 102.01,41.64 102.13,42.97 C102.24,44.30 102.36,45.64 102.48,46.98 C102.60,48.31 102.72,49.65 102.84,51.00 C102.96,52.34 103.09,53.68 103.21,55.03 C103.33,56.37 103.46,57.72 103.59,59.07 C103.71,60.42 103.84,61.77 103.97,63.12 C104.10,64.47 104.24,65.82 104.37,67.18 C104.51,68.53 104.64,69.89 104.78,71.24 C104.92,72.60 105.06,73.96 105.21,75.32 C105.35,76.67 105.50,78.03 105.65,79.39 C105.80,80.75 105.95,82.11 106.11,83.48 C106.26,84.84 106.42,86.20 106.58,87.56 C106.74,88.92 106.91,90.28 107.08,91.64 C107.25,93.01 107.42,94.37 107.60,95.73 C107.77,97.09 107.95,98.45 108.14,99.81 C108.32,101.18 108.51,102.54 108.70,103.90 C108.89,105.26 109.09,106.62 109.29,107.98 C109.49,109.34 109.70,110.69 109.91,112.05 C110.12,113.41 110.33,114.77 110.55,116.12 C110.77,117.48 111.00,118.83 111.23,120.18 C111.46,121.54 111.69,122.89 111.93,124.24 C112.17,125.59 112.42,126.94 112.67,128.28 C112.92,129.63 113.18,130.98 113.44,132.32 C113.70,133.66 113.97,135.00 114.25,136.34 C114.52,137.68 114.80,139.02 115.09,140.35 C115.38,141.69 115.67,143.02 115.97,144.35 C116.27,145.68 116.58,147.01 116.89,148.33 C117.20,149.66 117.52,150.98 117.85,152.30 C118.18,153.62 118.51,154.94 118.85,156.25 C119.19,157.56 119.54,158.87 119.90,160.18 C120.25,161.49 120.62,162.79 120.99,164.09 C121.36,165.39 121.74,166.69 122.12,167.98 C122.51,169.27 122.91,170.56 123.31,171.85 C123.71,173.13 124.12,174.41 124.54,175.69 C124.96,176.97 125.39,178.24 125.83,179.51 C126.26,180.78 126.71,182.05 127.16,183.31 C127.61,184.57 128.08,185.82 128.55,187.07 C129.02,188.32 129.50,189.57 129.99,190.81 C130.48,192.06 130.98,193.29 131.49,194.52 C132.00,195.76 132.52,196.98 133.05,198.21 C133.58,199.43 134.11,200.64 134.66,201.85 C135.21,203.06 135.77,204.27 136.34,205.47 C136.91,206.67 137.48,207.86 138.07,209.05 C138.66,210.24 139.26,211.42 139.87,212.60 C140.48,213.77 141.11,214.94 141.74,216.10 C142.37,217.27 143.02,218.42 143.67,219.57 C144.33,220.72 144.99,221.86 145.67,223.00 C146.35,224.13 147.04,225.26 147.74,226.38 C148.44,227.50 149.15,228.62 149.88,229.72 C150.61,230.83 151.34,231.93 152.09,233.02 C152.84,234.11 153.61,235.19 154.38,236.27 C155.16,237.34 155.94,238.41 156.74,239.47 C157.55,240.52 158.36,241.57 159.19,242.61 C160.01,243.66 160.85,244.69 161.71,245.71 C162.56,246.73 163.43,247.75 164.31,248.76 C165.19,249.76 166.08,250.76 166.99,251.74 C167.90,252.73 168.82,253.71 169.76,254.68 C170.69,255.65 171.64,256.60 172.61,257.55 C173.57,258.50 174.55,259.44 175.55,260.37 C176.54,261.30 177.55,262.21 178.57,263.12 C179.60,264.03 180.64,264.93 181.69,265.81 C182.74,266.70 183.81,267.58 184.90,268.44 C185.98,269.31 187.65,270.58 188.20,271.00" stroke="#f00" stroke-width="2.2" stroke-dasharray="6,2.5"/>
<path d="M84.70,15.40 C84.89,16.15 85.43,18.41 85.83,19.90 C86.22,21.40 86.64,22.89 87.07,24.38 C87.51,25.86 87.96,27.34 88.43,28.81 C88.90,30.29 89.40,31.75 89.91,33.21 C90.42,34.67 90.95,36.12 91.50,37.56 C92.05,39.00 92.62,40.44 93.21,41.86 C93.79,43.29 94.40,44.71 95.02,46.11 C95.65,47.52 96.29,48.92 96.96,50.31 C97.62,51.69 98.30,53.07 99.00,54.44 C99.70,55.80 100.42,57.16 101.15,58.50 C101.89,59.85 102.64,61.18 103.42,62.50 C104.19,63.82 104.98,65.13 105.79,66.42 C106.60,67.72 107.42,69.00 108.27,70.27 C109.11,71.54 109.97,72.80 110.85,74.04 C111.73,75.28 112.63,76.51 113.54,77.72 C114.46,78.93 115.39,80.13 116.34,81.31 C117.29,82.49 118.26,83.66 119.24,84.80 C120.23,85.95 121.23,87.09 122.25,88.20 C123.26,89.32 124.30,90.42 125.35,91.50 C126.40,92.59 127.47,93.65 128.55,94.70 C129.64,95.75 130.74,96.78 131.85,97.80 C132.97,98.82 134.09,99.82 135.24,100.80 C136.38,101.78 137.54,102.75 138.71,103.70 C139.88,104.65 141.07,105.59 142.26,106.50 C143.46,107.42 144.67,108.32 145.89,109.21 C147.12,110.10 148.35,110.97 149.60,111.82 C150.85,112.67 152.10,113.51 153.37,114.33 C154.64,115.15 155.92,115.96 157.21,116.75 C158.50,117.54 159.80,118.31 161.11,119.07 C162.42,119.83 163.74,120.57 165.07,121.30 C166.40,122.02 167.74,122.74 169.08,123.43 C170.43,124.13 171.78,124.81 173.14,125.47 C174.50,126.14 175.87,126.79 177.25,127.42 C178.62,128.06 180.01,128.68 181.40,129.28 C182.79,129.89 184.19,130.48 185.59,131.06 C187.00,131.63 188.41,132.20 189.82,132.75 C191.24,133.30 192.67,133.83 194.09,134.36 C195.52,134.88 196.96,135.39 198.40,135.89 C199.84,136.39 201.29,136.87 202.74,137.34 C204.20,137.82 205.65,138.28 207.12,138.73 C208.58,139.18 210.05,139.62 211.52,140.04 C212.99,140.47 214.47,140.88 215.95,141.29 C217.43,141.69 218.92,142.09 220.40,142.47 C221.89,142.85 223.39,143.22 224.88,143.59 C226.38,143.95 227.88,144.30 229.39,144.65 C230.89,144.99 232.40,145.32 233.91,145.65 C235.42,145.98 236.93,146.29 238.44,146.60 C239.96,146.91 241.48,147.20 243.00,147.49 C244.52,147.79 246.04,148.07 247.56,148.34 C249.09,148.62 250.61,148.88 252.14,149.14 C253.67,149.40 255.20,149.66 256.73,149.90 C258.26,150.15 259.79,150.39 261.32,150.62 C262.86,150.85 264.39,151.08 265.92,151.30 C267.46,151.52 268.99,151.73 270.52,151.94 C272.06,152.15 273.59,152.35 275.13,152.55 C276.66,152.75 278.19,152.94 279.73,153.13 C281.26,153.32 282.79,153.50 284.33,153.68 C285.86,153.86 287.39,154.04 288.92,154.21 C290.45,154.38 291.98,154.55 293.51,154.71 C295.03,154.88 296.56,155.04 298.08,155.20 C299.60,155.35 301.13,155.51 302.65,155.66 C304.17,155.82 305.68,155.97 307.20,156.12 C308.71,156.26 310.22,156.41 311.73,156.56 C313.24,156.70 314.75,156.84 316.25,156.99 C317.75,157.13 319.25,157.27 320.75,157.41 C322.24,157.55 323.74,157.69 325.22,157.83 C326.71,157.97 328.20,158.11 329.68,158.25 C331.16,158.39 332.63,158.53 334.10,158.67 C335.57,158.82 337.77,159.03 338.50,159.10" stroke="#800080" stroke-width="2.5" stroke-dasharray="2.4,1.6"/>
<path d="M88.00,15.40 C88.20,16.17 88.76,18.51 89.18,20.06 C89.59,21.60 90.02,23.13 90.48,24.66 C90.93,26.19 91.41,27.70 91.90,29.21 C92.40,30.72 92.91,32.21 93.45,33.70 C93.98,35.19 94.54,36.67 95.12,38.13 C95.69,39.60 96.29,41.06 96.90,42.51 C97.51,43.95 98.15,45.39 98.80,46.82 C99.45,48.25 100.12,49.66 100.81,51.07 C101.50,52.47 102.21,53.87 102.93,55.25 C103.66,56.63 104.40,58.01 105.16,59.37 C105.92,60.73 106.70,62.08 107.50,63.41 C108.30,64.75 109.11,66.08 109.94,67.39 C110.77,68.71 111.62,70.01 112.49,71.30 C113.35,72.59 114.23,73.87 115.13,75.13 C116.03,76.40 116.94,77.65 117.87,78.89 C118.80,80.13 119.75,81.36 120.71,82.57 C121.67,83.79 122.65,84.99 123.64,86.18 C124.63,87.36 125.64,88.54 126.66,89.70 C127.68,90.86 128.72,92.01 129.77,93.14 C130.82,94.27 131.89,95.39 132.97,96.50 C134.05,97.60 135.14,98.70 136.25,99.77 C137.36,100.85 138.48,101.91 139.62,102.96 C140.75,104.01 141.90,105.04 143.06,106.06 C144.23,107.08 145.40,108.08 146.59,109.07 C147.78,110.06 148.98,111.03 150.19,111.99 C151.40,112.95 152.63,113.89 153.86,114.81 C155.10,115.74 156.35,116.65 157.61,117.54 C158.87,118.44 160.14,119.32 161.43,120.18 C162.71,121.04 164.00,121.89 165.31,122.71 C166.61,123.54 167.93,124.36 169.26,125.15 C170.58,125.95 171.92,126.72 173.27,127.49 C174.62,128.25 175.97,128.99 177.34,129.72 C178.71,130.44 180.09,131.15 181.47,131.85 C182.86,132.54 184.26,133.21 185.66,133.87 C187.07,134.53 188.48,135.16 189.90,135.79 C191.32,136.42 192.75,137.02 194.19,137.62 C195.63,138.22 197.07,138.80 198.52,139.37 C199.97,139.94 201.43,140.50 202.89,141.05 C204.35,141.59 205.82,142.13 207.29,142.66 C208.76,143.19 210.24,143.70 211.72,144.22 C213.20,144.73 214.69,145.23 216.18,145.73 C217.67,146.23 219.16,146.72 220.65,147.21 C222.14,147.70 223.64,148.18 225.14,148.66 C226.63,149.14 228.13,149.62 229.63,150.10 C231.13,150.58 232.63,151.05 234.13,151.53 C235.63,152.00 237.13,152.48 238.63,152.96 C240.13,153.43 241.63,153.91 243.13,154.40 C244.62,154.88 246.12,155.36 247.61,155.86 C249.10,156.35 250.59,156.84 252.08,157.35 C253.56,157.85 255.05,158.36 256.52,158.88 C258.00,159.39 259.48,159.92 260.95,160.45 C262.42,160.99 263.88,161.53 265.34,162.09 C266.80,162.64 268.25,163.21 269.70,163.78 C271.15,164.36 272.59,164.94 274.03,165.54 C275.47,166.13 276.90,166.73 278.33,167.34 C279.77,167.94 281.19,168.56 282.62,169.18 C284.05,169.80 285.47,170.42 286.89,171.05 C288.31,171.68 289.73,172.31 291.15,172.94 C292.56,173.58 293.98,174.21 295.40,174.85 C296.81,175.49 298.23,176.13 299.65,176.76 C301.06,177.40 302.48,178.04 303.90,178.67 C305.31,179.31 306.73,179.94 308.15,180.57 C309.57,181.20 310.99,181.82 312.42,182.45 C313.84,183.07 315.27,183.68 316.70,184.29 C318.13,184.90 319.57,185.51 321.00,186.10 C322.44,186.70 323.88,187.29 325.33,187.87 C326.78,188.45 328.23,189.02 329.68,189.58 C331.14,190.14 332.60,190.69 334.07,191.23 C335.54,191.76 337.76,192.54 338.50,192.80" stroke="#0f0" stroke-width="2.1"/>
</g>
<rect x="82.5" y="15.4" width="256.0" height="255.6" fill="none" stroke="#000" stroke-width="1.55"/>
<path d="M91.03,271 v-2.5 M91.03,15.4 v2.5 M99.57,271 v-4.1 M99.57,15.4 v4.1 M108.10,271 v-2.5 M108.10,15.4 v2.5 M116.63,271 v-2.5 M116.63,15.4 v2.5 M125.17,271 v-2.5 M125.17,15.4 v2.5 M133.70,271 v-4.1 M133.70,15.4 v4.1 M142.23,271 v-2.5 M142.23,15.4 v2.5 M150.77,271 v-2.5 M150.77,15.4 v2.5 M159.30,271 v-2.5 M159.30,15.4 v2.5 M167.83,271 v-4.1 M167.83,15.4 v4.1 M176.37,271 v-2.5 M176.37,15.4 v2.5 M184.90,271 v-2.5 M184.90,15.4 v2.5 M193.43,271 v-2.5 M193.43,15.4 v2.5 M201.97,271 v-4.1 M201.97,15.4 v4.1 M210.50,271 v-2.5 M210.50,15.4 v2.5 M219.03,271 v-2.5 M219.03,15.4 v2.5 M227.57,271 v-2.5 M227.57,15.4 v2.5 M236.10,271 v-4.1 M236.10,15.4 v4.1 M244.63,271 v-2.5 M244.63,15.4 v2.5 M253.17,271 v-2.5 M253.17,15.4 v2.5 M261.70,271 v-2.5 M261.70,15.4 v2.5 M270.23,271 v-4.1 M270.23,15.4 v4.1 M278.77,271 v-2.5 M278.77,15.4 v2.5 M287.30,271 v-2.5 M287.30,15.4 v2.5 M295.83,271 v-2.5 M295.83,15.4 v2.5 M304.37,271 v-4.1 M304.37,15.4 v4.1 M312.90,271 v-2.5 M312.90,15.4 v2.5 M321.43,271 v-2.5 M321.43,15.4 v2.5 M329.97,271 v-2.5 M329.97,15.4 v2.5 M82.5,66.52 h4 M338.5,66.52 h-4 M82.5,117.64 h4 M338.5,117.64 h-4 M82.5,168.76 h4 M338.5,168.76 h-4 M82.5,219.88 h4 M338.5,219.88 h-4" stroke="#000" stroke-width="1.05" fill="none"/>
<path d="M82.5,51.13 h1.7 M338.5,51.13 h-1.7 M82.5,42.13 h1.7 M338.5,42.13 h-1.7 M82.5,35.74 h1.7 M338.5,35.74 h-1.7 M82.5,30.79 h1.7 M338.5,30.79 h-1.7 M82.5,26.74 h1.7 M338.5,26.74 h-1.7 M82.5,23.32 h1.7 M338.5,23.32 h-1.7 M82.5,20.35 h1.7 M338.5,20.35 h-1.7 M82.5,17.74 h1.7 M338.5,17.74 h-1.7 M82.5,102.25 h1.7 M338.5,102.25 h-1.7 M82.5,93.25 h1.7 M338.5,93.25 h-1.7 M82.5,86.86 h1.7 M338.5,86.86 h-1.7 M82.5,81.91 h1.7 M338.5,81.91 h-1.7 M82.5,77.86 h1.7 M338.5,77.86 h-1.7 M82.5,74.44 h1.7 M338.5,74.44 h-1.7 M82.5,71.47 h1.7 M338.5,71.47 h-1.7 M82.5,68.86 h1.7 M338.5,68.86 h-1.7 M82.5,153.37 h1.7 M338.5,153.37 h-1.7 M82.5,144.37 h1.7 M338.5,144.37 h-1.7 M82.5,137.98 h1.7 M338.5,137.98 h-1.7 M82.5,133.03 h1.7 M338.5,133.03 h-1.7 M82.5,128.98 h1.7 M338.5,128.98 h-1.7 M82.5,125.56 h1.7 M338.5,125.56 h-1.7 M82.5,122.59 h1.7 M338.5,122.59 h-1.7 M82.5,119.98 h1.7 M338.5,119.98 h-1.7 M82.5,204.49 h1.7 M338.5,204.49 h-1.7 M82.5,195.49 h1.7 M338.5,195.49 h-1.7 M82.5,189.10 h1.7 M338.5,189.10 h-1.7 M82.5,184.15 h1.7 M338.5,184.15 h-1.7 M82.5,180.10 h1.7 M338.5,180.10 h-1.7 M82.5,176.68 h1.7 M338.5,176.68 h-1.7 M82.5,173.71 h1.7 M338.5,173.71 h-1.7 M82.5,171.10 h1.7 M338.5,171.10 h-1.7 M82.5,255.61 h1.7 M338.5,255.61 h-1.7 M82.5,246.61 h1.7 M338.5,246.61 h-1.7 M82.5,240.22 h1.7 M338.5,240.22 h-1.7 M82.5,235.27 h1.7 M338.5,235.27 h-1.7 M82.5,231.22 h1.7 M338.5,231.22 h-1.7 M82.5,227.80 h1.7 M338.5,227.80 h-1.7 M82.5,224.83 h1.7 M338.5,224.83 h-1.7 M82.5,222.22 h1.7 M338.5,222.22 h-1.7" stroke="#000" stroke-width="0.5" stroke-opacity="0.7" fill="none"/>
<text x="33.2" y="22.90" font-family="Liberation Serif, serif" font-size="21.5">10</text>
<text x="54.4" y="16.80" font-family="Liberation Serif, serif" font-size="14.7">−</text>
<text x="63.8" y="15.20" font-family="Liberation Serif, serif" font-size="15">38</text>
<text x="33.2" y="74.02" font-family="Liberation Serif, serif" font-size="21.5">10</text>
<text x="54.4" y="67.92" font-family="Liberation Serif, serif" font-size="14.7">−</text>
<text x="63.8" y="66.32" font-family="Liberation Serif, serif" font-size="15">39</text>
<text x="33.2" y="125.14" font-family="Liberation Serif, serif" font-size="21.5">10</text>
<text x="54.4" y="119.04" font-family="Liberation Serif, serif" font-size="14.7">−</text>
<text x="63.8" y="117.44" font-family="Liberation Serif, serif" font-size="15">40</text>
<text x="33.2" y="176.26" font-family="Liberation Serif, serif" font-size="21.5">10</text>
<text x="54.4" y="170.16" font-family="Liberation Serif, serif" font-size="14.7">−</text>
<text x="63.8" y="168.56" font-family="Liberation Serif, serif" font-size="15">41</text>
<text x="33.2" y="227.38" font-family="Liberation Serif, serif" font-size="21.5">10</text>
<text x="54.4" y="221.28" font-family="Liberation Serif, serif" font-size="14.7">−</text>
<text x="63.8" y="219.68" font-family="Liberation Serif, serif" font-size="15">42</text>
<text x="33.2" y="278.50" font-family="Liberation Serif, serif" font-size="21.5">10</text>
<text x="54.4" y="272.40" font-family="Liberation Serif, serif" font-size="14.7">−</text>
<text x="63.8" y="270.80" font-family="Liberation Serif, serif" font-size="15">43</text>
<text x="99.57" y="289.8" text-anchor="middle" font-family="Liberation Serif, serif" font-size="21.5">6</text>
<text x="133.70" y="289.8" text-anchor="middle" font-family="Liberation Serif, serif" font-size="21.5">8</text>
<text x="167.83" y="289.8" text-anchor="middle" font-family="Liberation Serif, serif" font-size="21.5">10</text>
<text x="201.97" y="289.8" text-anchor="middle" font-family="Liberation Serif, serif" font-size="21.5">12</text>
<text x="236.10" y="289.8" text-anchor="middle" font-family="Liberation Serif, serif" font-size="21.5">14</text>
<text x="270.23" y="289.8" text-anchor="middle" font-family="Liberation Serif, serif" font-size="21.5">16</text>
<text x="304.37" y="289.8" text-anchor="middle" font-family="Liberation Serif, serif" font-size="21.5">18</text>
<text x="338.50" y="289.8" text-anchor="middle" font-family="Liberation Serif, serif" font-size="21.5">20</text>
<rect x="227.8" y="23.4" width="24.7" height="9.8" rx="4.9" fill="#b9b9b9" stroke="#747474" stroke-width="1.6"/>
<rect x="227.9" y="39.1" width="24.6" height="10" rx="5" fill="#febc7c" stroke="#ff7f00" stroke-width="2.2" stroke-dasharray="2.6,1.8"/>
<path d="M228,62.3 H255" stroke="#000" stroke-width="1.7" fill="none" stroke-dasharray=""/>
<path d="M228,75.6 H255" stroke="#f00" stroke-width="2" fill="none" stroke-dasharray="4.5,1.5"/>
<path d="M228,89 H255" stroke="#00f" stroke-width="2" fill="none" stroke-dasharray="1.5,1.5,5,1.5"/>
<path d="M228,102.4 H255" stroke="#0f0" stroke-width="2" fill="none" stroke-dasharray=""/>
<path d="M228,115.8 H255" stroke="#800080" stroke-width="2.2" fill="none" stroke-dasharray="2.5,1.75"/>
<text x="259.6" y="33.3" font-family="Liberation Serif, serif" font-size="13" textLength="52.7" lengthAdjust="spacingAndGlyphs">CDMS−Si</text>
<text x="259.6" y="49.4" font-family="Liberation Serif, serif" font-size="13" textLength="61.9" lengthAdjust="spacingAndGlyphs">CRESST−II</text>
<text x="260.7" y="65.3" font-family="Liberation Serif, serif" font-size="13" textLength="56.7" lengthAdjust="spacingAndGlyphs">XENON10</text>
<text x="260.7" y="78.6" font-family="Liberation Serif, serif" font-size="13" textLength="62.6" lengthAdjust="spacingAndGlyphs">XENON100</text>
<text x="261.2" y="91.9" font-family="Liberation Serif, serif" font-size="13" textLength="56.8" lengthAdjust="spacingAndGlyphs">CDMS−Ge</text>
<text x="261.2" y="105.2" font-family="Liberation Serif, serif" font-size="13" textLength="61.4" lengthAdjust="spacingAndGlyphs">CRESST−II</text>
<text x="261.6" y="118.5" font-family="Liberation Serif, serif" font-size="13" textLength="42.7" lengthAdjust="spacingAndGlyphs">SIMPLE</text>
<text x="86.8" y="229.2" font-family="Liberation Serif, serif" font-size="12" textLength="33.4" lengthAdjust="spacingAndGlyphs">Elastic</text>
<text x="86.8" y="246.2" font-family="Liberation Serif, serif" font-size="12" textLength="26" lengthAdjust="spacingAndGlyphs">SHM</text>
<text x="86.8" y="263.2" font-family="Liberation Serif, serif" font-size="12" textLength="42.6" lengthAdjust="spacingAndGlyphs"><tspan font-style="italic">δ</tspan>=0 keV</text>
<text transform="translate(166.2,317.4) scale(1.27,1.1)" font-family="Liberation Serif, serif" font-size="20" font-style="italic">m</text>
<text x="183.6" y="323.4" font-family="Liberation Serif, serif" font-size="15.5" font-style="italic">χ</text>
<text x="198.9" y="317.4" font-family="Liberation Serif, serif" font-size="20.6">[GeV]</text>
<g transform="translate(21.9,181.4) rotate(-90)"><text transform="translate(-1.3,0) scale(1.5,1.08)" font-family="Liberation Serif, serif" font-size="20" font-style="italic">σ</text><text transform="translate(14.3,3.3) scale(1.15,1)" font-family="Liberation Serif, serif" font-size="16" font-style="italic">n</text><text x="28.0" y="-0.4" font-family="Liberation Serif, serif" font-size="23.7">[</text><text transform="translate(37.2,0) scale(1,1.22)" font-family="Liberation Serif, serif" font-size="20.8">c</text><text transform="translate(45.7,0) scale(1.0,1.22)" font-family="Liberation Serif, serif" font-size="20.8">m</text><text x="60.4" y="-9.4" font-family="Liberation Serif, serif" font-size="17">2</text><text x="68.0" y="-0.4" font-family="Liberation Serif, serif" font-size="23.7">]</text></g>
</svg>
</body></html>
